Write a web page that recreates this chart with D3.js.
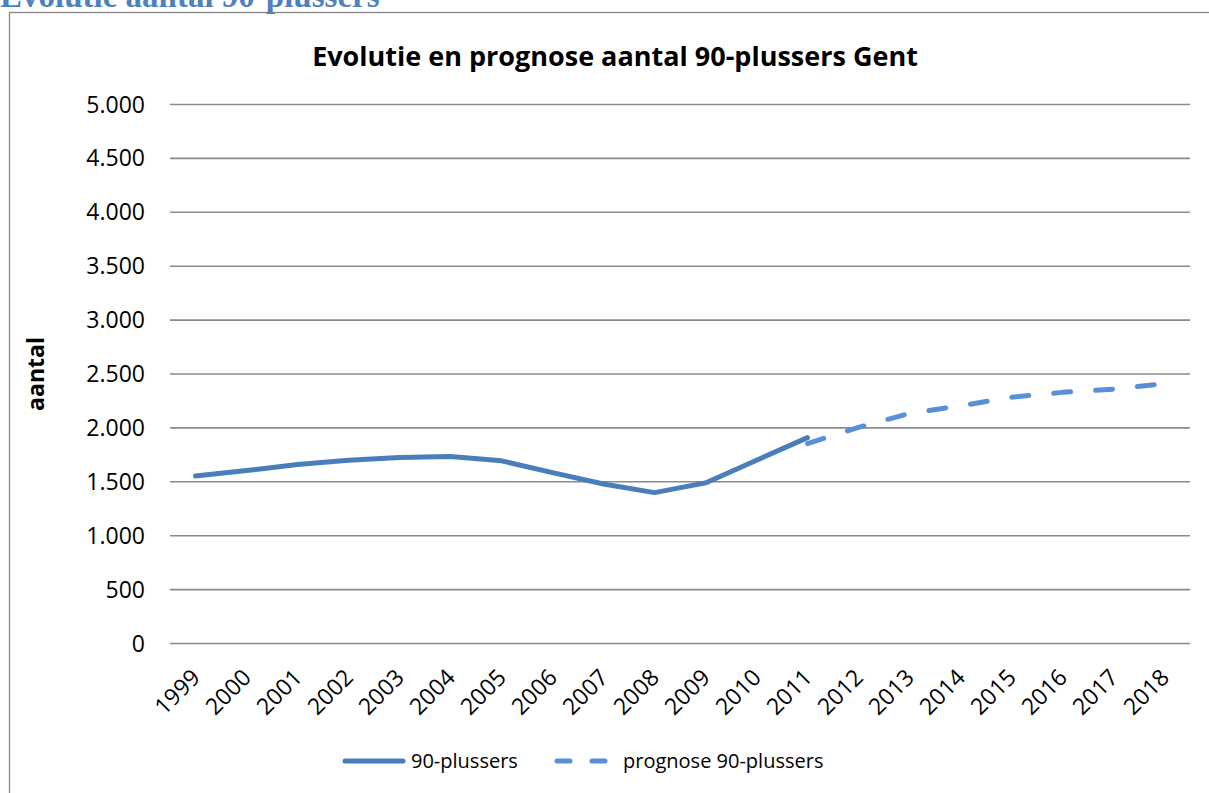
<!DOCTYPE html>
<html>
<head>
<meta charset="utf-8">
<script src="https://cdn.jsdelivr.net/npm/d3@7"></script>
<style>
  body { margin: 0; background: #fff; }
  svg { display: block; }
</style>
</head>
<body>
<div id="chart"></div>
<script>
// data
var years = ["1999","2000","2001","2002","2003","2004","2005","2006","2007","2008",
             "2009","2010","2011","2012","2013","2014","2015","2016","2017","2018"];
var actualYears = ["1999","2000","2001","2002","2003","2004","2005","2006","2007","2008","2009","2010","2011"];
var actualValues = [1550, 1600, 1655, 1695, 1720, 1730, 1690, 1580, 1475, 1395, 1485, 1695, 1905];
var prognoseYears = ["2011","2012","2013","2014","2015","2016","2017","2018"];
var prognoseValues = [1850, 2000, 2130, 2200, 2280, 2325, 2355, 2405];
var yTicks = [0, 500, 1000, 1500, 2000, 2500, 3000, 3500, 4000, 4500, 5000];

var W = 1209, H = 793;
var margin = {top: 104, right: 19, bottom: 150, left: 170};
var solidColor = "#4a7ebb", dashColor = "#5790d8";
var font = "'Open Sans', 'Noto Sans', sans-serif";

var svg = d3.select("#chart").append("svg")
    .attr("width", W)
    .attr("height", H)
    .style("font-family", font);

// frame of the embedded chart
svg.append("rect")
    .attr("x", 9.5).attr("y", 12.5)
    .attr("width", W + 20).attr("height", H + 20)
    .attr("fill", "none")
    .attr("stroke", "#878787")
    .attr("stroke-width", 1.3);

// document heading, cut at the top (as in the original page)
svg.append("text")
    .attr("x", 0).attr("y", 7)
    .style("font-family", "'Liberation Serif', 'DejaVu Serif', serif")
    .style("font-weight", "bold")
    .style("font-size", "33px")
    .attr("fill", "#4f81bd")
    .text("Evolutie aantal 90-plussers");

var x = d3.scaleBand().domain(years).range([margin.left, W - margin.right]);
var y = d3.scaleLinear().domain([0, 5000]).range([H - margin.bottom, margin.top]);
var cx = function(d) { return x(d) + x.bandwidth() / 2; };

var fmt = d3.formatLocale({decimal: ",", thousands: ".", grouping: [3], currency: ["€", ""]}).format(",d");

// gridlines + y labels
var yAxis = svg.append("g")
    .attr("transform", "translate(" + margin.left + ",0)")
    .call(d3.axisLeft(y).tickValues(yTicks).tickFormat(fmt)
        .tickSize(-(W - margin.left - margin.right)).tickPadding(25));
yAxis.select(".domain").remove();
yAxis.selectAll(".tick line")
    .attr("stroke", "#8a8a8a")
    .attr("stroke-width", 1.6);
yAxis.selectAll(".tick text")
    .style("font-family", font)
    .style("font-size", "23px")
    .attr("fill", "#000")
    .attr("dy", "0.35em");

// x labels, rotated
svg.append("g").selectAll("text")
    .data(years)
    .enter().append("text")
    .attr("transform", function(d) { return "translate(" + (cx(d) + 6) + ",679) rotate(-45)"; })
    .attr("text-anchor", "end")
    .style("font-size", "23px")
    .attr("fill", "#000")
    .text(function(d) { return d; });

// title
svg.append("text")
    .attr("x", 615).attr("y", 66)
    .attr("text-anchor", "middle")
    .style("font-weight", "bold")
    .style("font-size", "27px")
    .attr("fill", "#000")
    .text("Evolutie en prognose aantal 90-plussers Gent");

// y axis title
svg.append("text")
    .attr("transform", "translate(44,374) rotate(-90)")
    .attr("text-anchor", "middle")
    .style("font-weight", "bold")
    .style("font-size", "23px")
    .attr("fill", "#000")
    .text("aantal");

var line = d3.line()
    .x(function(d) { return cx(d[0]); })
    .y(function(d) { return y(d[1]); });

svg.append("path")
    .datum(d3.zip(actualYears, actualValues))
    .attr("d", line)
    .attr("fill", "none")
    .attr("stroke", solidColor)
    .attr("stroke-width", 5)
    .attr("stroke-linejoin", "round")
    .attr("stroke-linecap", "round");

svg.append("path")
    .datum(d3.zip(prognoseYears, prognoseValues))
    .attr("d", line)
    .attr("fill", "none")
    .attr("stroke", dashColor)
    .attr("stroke-width", 5)
    .attr("stroke-dasharray", "17 25")
    .attr("stroke-linejoin", "round")
    .attr("stroke-linecap", "round");

// legend
var legend = svg.append("g");
legend.append("line")
    .attr("x1", 345).attr("x2", 403).attr("y1", 761).attr("y2", 761)
    .attr("stroke", solidColor).attr("stroke-width", 5).attr("stroke-linecap", "round");
legend.append("text")
    .attr("x", 411).attr("y", 761).attr("dy", "0.35em")
    .style("font-size", "20px")
    .text("90-plussers");
legend.append("line")
    .attr("x1", 557).attr("x2", 608).attr("y1", 761).attr("y2", 761)
    .attr("stroke", dashColor).attr("stroke-width", 5).attr("stroke-linecap", "round")
    .attr("stroke-dasharray", "13 22");
legend.append("text")
    .attr("x", 623).attr("y", 761).attr("dy", "0.35em")
    .style("font-size", "20px")
    .text("prognose 90-plussers");
</script>
</body>
</html>
